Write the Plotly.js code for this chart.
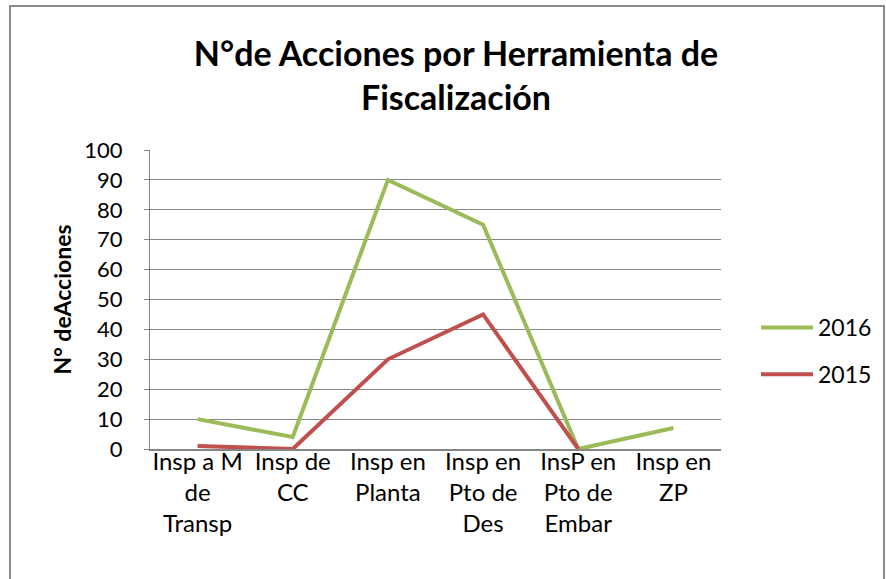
<!DOCTYPE html>
<html><head><meta charset="utf-8">
<script src="https://cdn.plot.ly/plotly-3.0.1.min.js"></script>
<style>html,body{margin:0;padding:0;background:#fff;}</style>
</head><body>
<div id="chart" style="width:886px;height:579px;"></div>
<script>
const categories = ["Insp a M de Transp","Insp de CC","Insp en Planta","Insp en Pto de Des","InsP en Pto de Embar","Insp en ZP"];
const tickLabels = ["Insp a M<br>de<br>Transp","Insp de<br>CC","Insp en<br>Planta","Insp en<br>Pto de<br>Des","InsP en<br>Pto de<br>Embar","Insp en<br>ZP"];
const values2016 = [10, 4, 90, 75, 0, 7];
const values2015 = [1, 0, 30, 45, 0, null];

const L = 150, R = 721, T = 150, B = 449, W = 886, H = 579;
const px = x => (x - L) / (R - L);
const py = y => (B - y) / (B - T);

const traces = [
  {x: categories, y: values2016, name: "2016", type: "scatter", mode: "lines",
   legendgroup: "a", line: {color: "#9BBB59", width: 4}},
  {x: categories, y: values2015, name: "2015", type: "scatter", mode: "lines",
   legendgroup: "b", line: {color: "#C0504D", width: 4}, connectgaps: false}
];

const layout = {
  width: W, height: H,
  margin: {l: L, r: W - R, t: T, b: H - B, pad: 0},
  paper_bgcolor: "#fff", plot_bgcolor: "#fff",
  font: {family: "Lato, 'Open Sans', sans-serif", color: "#000"},
  title: {text: "<b>N°de Acciones por Herramienta de<br>Fiscalización</b>",
          font: {size: 34, family: "Lato, sans-serif", color: "#000"},
          xref: "container", x: 456 / W, xanchor: "center",
          yref: "container", y: 1 - 66 / H, yanchor: "middle"},
  xaxis: {
    type: "category", tickvals: categories, ticktext: tickLabels,
    showgrid: false, showline: true, linecolor: "#868686", linewidth: 2,
    ticks: "", tickfont: {size: 24, color: "#000"}, fixedrange: true,
    ticklabelstandoff: -10,
    range: [-0.5, 5.5], zeroline: false
  },
  yaxis: {
    range: [0, 100], dtick: 10, tick0: 0,
    showgrid: true, gridcolor: "#868686", gridwidth: 1,
    showline: true, linecolor: "#868686", linewidth: 1,
    ticks: "outside", ticklen: 5, tickcolor: "#868686",
    ticklabelstandoff: 17,
    tickfont: {size: 22, color: "#000"}, zeroline: false,
    title: {text: "<b>N° deAcciones</b>", font: {size: 23, color: "#000"}, standoff: 6}
  },
  legend: {xref: "container", yref: "container", x: 756 / W, xanchor: "left",
           y: 1 - 351 / H, yanchor: "middle",
           font: {size: 23, color: "#000"}, traceorder: "grouped", tracegroupgap: 14,
           itemwidth: 52, bgcolor: "rgba(0,0,0,0)", borderwidth: 0},
  showlegend: true,
  shapes: [{type: "rect", xref: "paper", yref: "paper",
            x0: px(10), x1: px(884), y0: py(620), y1: py(6),
            line: {color: "#8a8a8a", width: 2}, fillcolor: "rgba(0,0,0,0)", layer: "below"}]
};

Plotly.newPlot("chart", traces, layout, {displayModeBar: false, staticPlot: true});
</script>
</body></html>
